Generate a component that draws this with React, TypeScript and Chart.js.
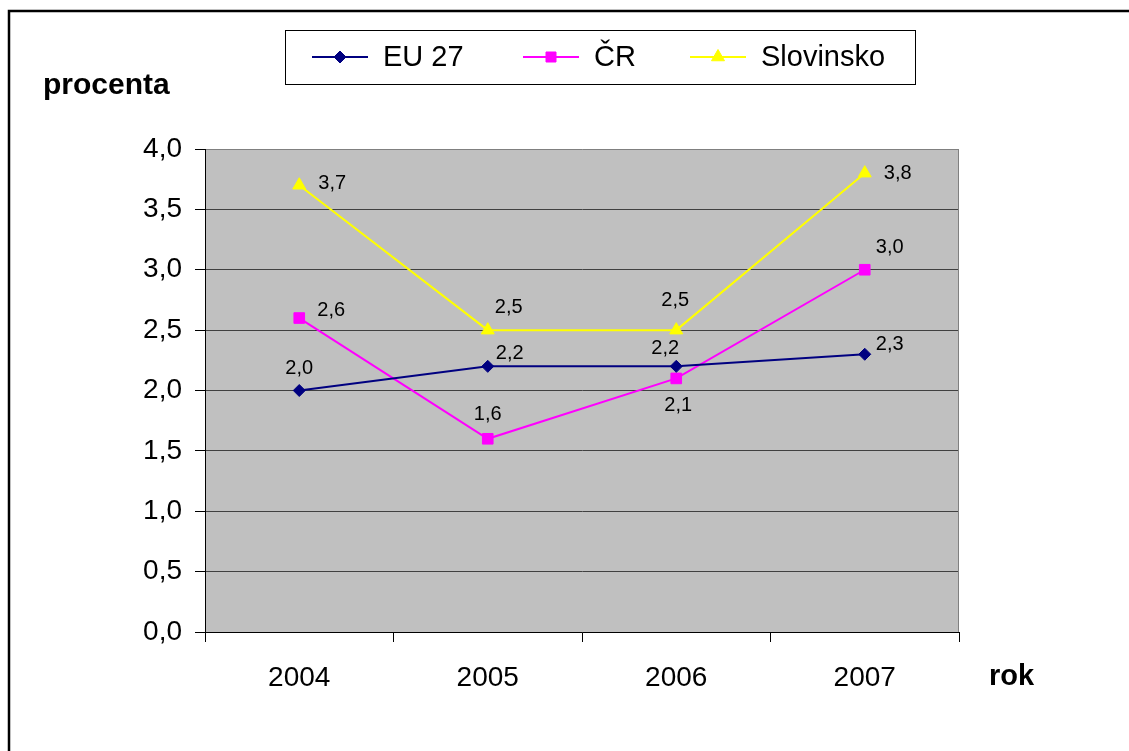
import React, { useEffect, useRef } from "react";
import { Chart, registerables } from "chart.js";

Chart.register(...registerables);

// ---- data ----
const years = ["2004", "2005", "2006", "2007"];
const seriesNames = ["EU 27", "ČR", "Slovinsko"];
const eu27 = [2.0, 2.2, 2.2, 2.3];
const cr = [2.6, 1.6, 2.1, 3.0];
const slovinsko = [3.7, 2.5, 2.5, 3.8];
const yMin = 0;
const yMax = 4;
const yStep = 0.5;
const yTitle = "procenta";
const xTitle = "rok";

// ---- styles ----
const colors = ["#000080", "#FF00FF", "#FFFF00"];
const pointStyles = ["rectRot", "rect", "triangle"];
const pointRadii = [6, 7.5, 7.5];
// label offsets (dx, dy) relative to each point
const labelOffsets = [
  [[0, -22], [22, -13], [-11, -18], [25, -10]],
  [[32, -8], [0, -24], [2, 27], [25, -22]],
  [[33, -2], [21, -23], [-1, -30], [33, 0]],
];
const FONT = '"Liberation Sans", Arial, Helvetica, sans-serif';
const fmt = (v: number) => v.toFixed(1).replace(".", ",");

function drawMarker(ctx: CanvasRenderingContext2D, style: string, x: number, y: number, color: string) {
  ctx.save();
  ctx.fillStyle = color;
  ctx.strokeStyle = color;
  ctx.lineWidth = 1;
  ctx.beginPath();
  if (style === "rectRot") {
    const r = 6;
    ctx.moveTo(x - r, y);
    ctx.lineTo(x, y - r);
    ctx.lineTo(x + r, y);
    ctx.lineTo(x, y + r);
  } else if (style === "rect") {
    const s = 5;
    ctx.rect(x - s, y - s, 2 * s, 2 * s);
  } else {
    const r = 7.5;
    ctx.moveTo(x, y - r);
    ctx.lineTo(x + 0.866 * r, y + 0.5 * r);
    ctx.lineTo(x - 0.866 * r, y + 0.5 * r);
  }
  ctx.closePath();
  ctx.fill();
  ctx.stroke();
  ctx.restore();
}

const decorPlugin = {
  id: "decor",
  beforeDraw(chart: any) {
    const { ctx, chartArea } = chart;
    ctx.save();
    ctx.fillStyle = "#FFFFFF";
    ctx.fillRect(0, 0, chart.width, chart.height);
    ctx.fillStyle = "#C0C0C0";
    ctx.fillRect(chartArea.left, chartArea.top, chartArea.right - chartArea.left, chartArea.bottom - chartArea.top);
    ctx.restore();
  },
  afterDatasetsDraw(chart: any) {
    const { ctx } = chart;
    ctx.save();
    ctx.font = `20px ${FONT}`;
    ctx.fillStyle = "#000";
    ctx.textAlign = "center";
    ctx.textBaseline = "middle";
    chart.data.datasets.forEach((ds: any, i: number) => {
      const meta = chart.getDatasetMeta(i);
      meta.data.forEach((pt: any, j: number) => {
        const [dx, dy] = labelOffsets[i][j];
        ctx.fillText(fmt(ds.data[j]), pt.x + dx, pt.y + dy);
      });
    });
    ctx.restore();
  },
  afterDraw(chart: any) {
    const { ctx, chartArea } = chart;
    ctx.save();
    // plot area right border
    ctx.strokeStyle = "#808080";
    ctx.lineWidth = 1;
    ctx.beginPath();
    ctx.moveTo(chartArea.right - 0.5, chartArea.top);
    ctx.lineTo(chartArea.right - 0.5, chartArea.bottom);
    ctx.stroke();

    // outer frame (left & top)
    ctx.strokeStyle = "#000";
    ctx.lineWidth = 2.5;
    ctx.beginPath();
    ctx.moveTo(9, chart.height);
    ctx.lineTo(9, 11);
    ctx.lineTo(chart.width, 11);
    ctx.stroke();

    // titles
    ctx.fillStyle = "#000";
    ctx.textAlign = "left";
    ctx.textBaseline = "alphabetic";
    ctx.font = `bold 30px ${FONT}`;
    ctx.fillText(yTitle, 43, 94);
    ctx.font = `bold 29px ${FONT}`;
    ctx.fillText(xTitle, 989, 685);

    // legend
    ctx.strokeStyle = "#000";
    ctx.lineWidth = 1;
    ctx.strokeRect(285.5, 30.5, 630, 54);
    const lineStarts = [312, 523, 690];
    const legY = 57;
    ctx.font = `29px ${FONT}`;
    ctx.textBaseline = "middle";
    seriesNames.forEach((name, i) => {
      const x0 = lineStarts[i];
      ctx.strokeStyle = colors[i];
      ctx.lineWidth = 2;
      ctx.beginPath();
      ctx.moveTo(x0, legY);
      ctx.lineTo(x0 + 56, legY);
      ctx.stroke();
      drawMarker(ctx, pointStyles[i], x0 + 28, legY, colors[i]);
      ctx.fillStyle = "#000";
      ctx.fillText(name, x0 + 71, legY + 1);
    });
    ctx.restore();
  },
};

export default function App() {
  const ref = useRef<HTMLCanvasElement | null>(null);
  useEffect(() => {
    const canvas = ref.current!;
    const values = [eu27, cr, slovinsko];
    const chart = new Chart(canvas, {
      type: "line",
      data: {
        labels: years,
        datasets: seriesNames.map((name, i) => ({
          label: name,
          data: values[i],
          borderColor: colors[i],
          backgroundColor: colors[i],
          borderWidth: 2,
          pointStyle: pointStyles[i] as any,
          pointRadius: pointRadii[i],
          pointBorderWidth: 1,
          pointBorderColor: colors[i],
          pointBackgroundColor: colors[i],
          tension: 0,
          fill: false,
        })),
      },
      options: {
        responsive: false,
        animation: false,
        devicePixelRatio: 1,
        layout: { padding: { left: 0, top: 149, right: 170, bottom: 0 } },
        plugins: { legend: { display: false }, tooltip: { enabled: false }, title: { display: false } },
        scales: {
          x: {
            type: "category",
            offset: true,
            grid: {
              offset: true,
              drawOnChartArea: false,
              drawTicks: true,
              tickLength: 10,
              tickColor: "#000",
              color: "#000",
            },
            border: { color: "#000", width: 1 },
            ticks: { font: { family: FONT, size: 28 }, color: "#000", padding: 19, maxRotation: 0 },
            afterFit: (s: any) => { s.height = 119; },
          },
          y: {
            min: yMin,
            max: yMax,
            ticks: {
              stepSize: yStep,
              font: { family: FONT, size: 28 },
              color: "#000",
              padding: 13,
              callback: (v: any) => fmt(Number(v)),
            },
            grid: {
              color: (c: any) => (c.tick && c.tick.value === yMax ? "#808080" : "#404040"),
              tickColor: "#000",
              tickLength: 10,
              lineWidth: 1,
            },
            border: { color: "#000", width: 1 },
            afterFit: (s: any) => { s.width = 205; },
          },
        },
      },
      plugins: [decorPlugin],
    });
    return () => chart.destroy();
  }, []);
  return (
    <div style={{ position: "fixed", left: 0, top: 0, width: 1129, height: 751, background: "#fff" }}>
      <canvas ref={ref} width={1129} height={751} style={{ width: 1129, height: 751, display: "block" }} />
    </div>
  );
}
